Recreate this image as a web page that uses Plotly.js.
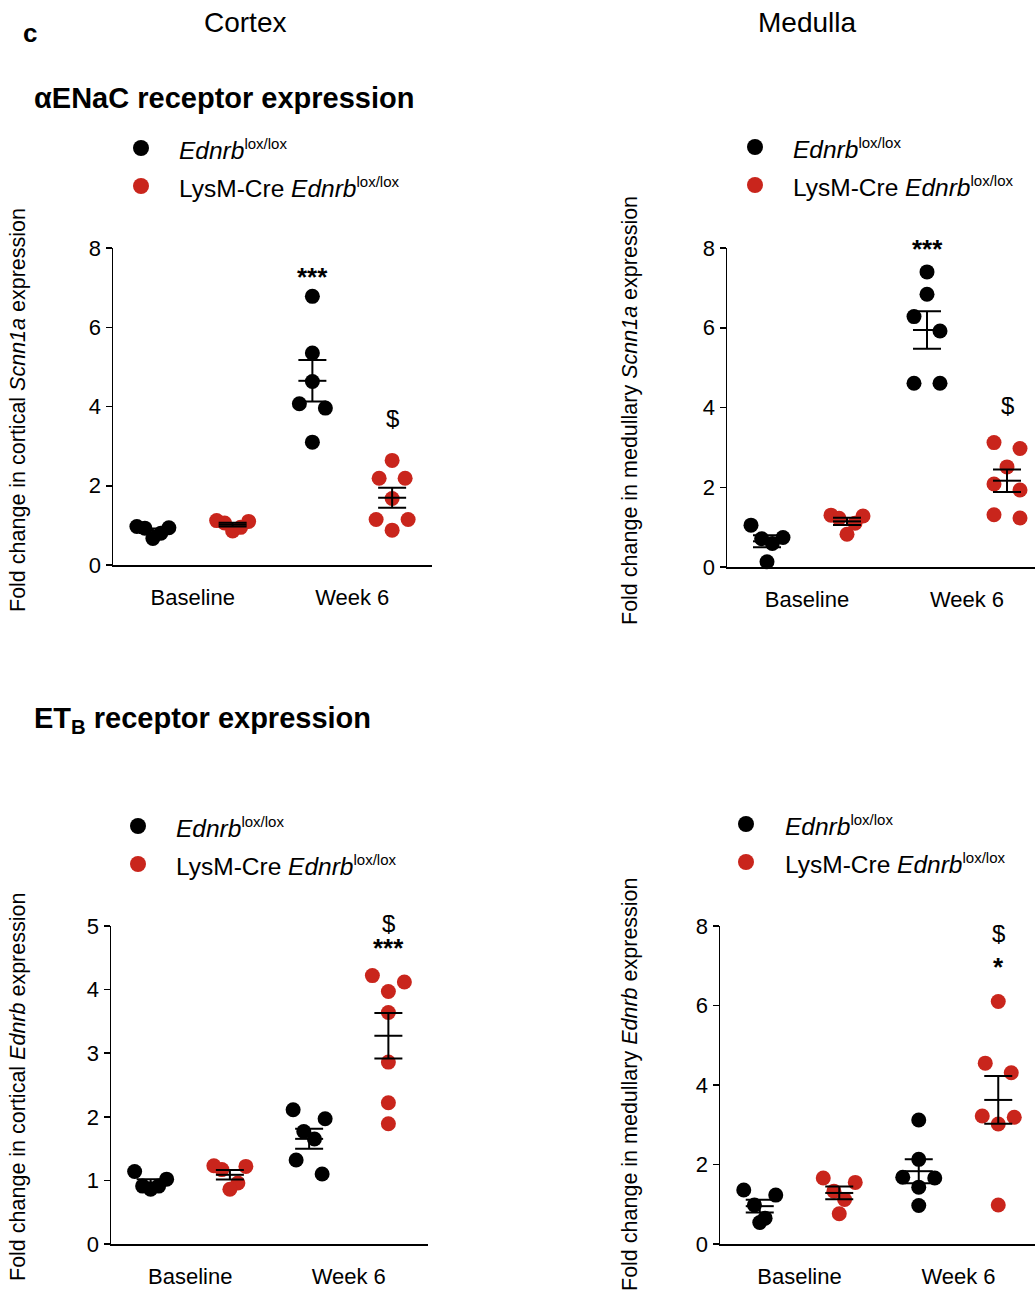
<!DOCTYPE html>
<html>
<head>
<meta charset="utf-8">
<script src="https://cdn.plot.ly/plotly-3.0.1.min.js"></script>
<style>
  html, body { margin: 0; padding: 0; overflow: hidden; background: #ffffff; }
  #fig { width: 1060px; height: 1297px; }
</style>
</head>
<body>
<div id="fig"></div>
<script>
// ---- Labels ----
const timepoints = ['Baseline', 'Week 6'];
const supLox = '<sup><span style="font-size:15px">lox/lox</span></sup>';
const genotypeFlox = '<i>Ednrb</i>' + supLox;
const genotypeLysM = 'LysM-Cre <i>Ednrb</i>' + supLox;

// ---- Fold change per animal ----
// alphaENaC (Scnn1a), cortex
const cortexScnn1aFloxBaseline = [0.97, 0.93, 0.67, 0.80, 0.94];
const cortexScnn1aLysMBaseline = [1.10, 1.06, 0.86, 0.95, 1.12];
const cortexScnn1aFloxWeek6    = [6.78, 5.35, 4.63, 4.07, 3.96, 3.10];
const cortexScnn1aLysMWeek6    = [2.64, 2.19, 2.19, 1.68, 1.15, 1.15, 0.88];

// alphaENaC (Scnn1a), medulla
const medullaScnn1aFloxBaseline = [1.05, 0.71, 0.74, 0.59, 0.13];
const medullaScnn1aLysMBaseline = [1.30, 1.22, 1.28, 0.82, 1.10];
const medullaScnn1aFloxWeek6    = [7.40, 6.84, 6.28, 5.92, 4.61, 4.61];
const medullaScnn1aLysMWeek6    = [2.97, 3.12, 2.51, 2.08, 1.93, 1.23, 1.31];

// ETB (Ednrb), cortex
const cortexEdnrbFloxBaseline = [1.14, 0.91, 0.86, 0.91, 1.02];
const cortexEdnrbLysMBaseline = [1.22, 1.17, 1.23, 0.96, 0.86];
const cortexEdnrbFloxWeek6    = [2.11, 1.97, 1.77, 1.65, 1.32, 1.10];
const cortexEdnrbLysMWeek6    = [4.22, 4.12, 3.97, 3.64, 2.86, 2.22, 1.89];

// ETB (Ednrb), medulla
const medullaEdnrbFloxBaseline = [1.36, 1.23, 0.98, 0.54, 0.65];
const medullaEdnrbLysMBaseline = [1.66, 1.55, 1.33, 1.12, 0.76];
const medullaEdnrbFloxWeek6    = [3.12, 2.13, 1.68, 1.66, 1.43, 0.97];
const medullaEdnrbLysMWeek6    = [6.10, 4.55, 4.31, 3.22, 3.19, 3.02, 0.98];

// Significance per group (flox baseline, LysM baseline, flox wk6, LysM wk6)
// * vs baseline, $ vs Ednrb lox/lox at the same time point
const starsCortexScnn1a   = ['', '', '***', ''];
const dollarCortexScnn1a  = ['', '', '', '$'];
const starsMedullaScnn1a  = ['', '', '***', ''];
const dollarMedullaScnn1a = ['', '', '', '$'];
const starsCortexEdnrb    = ['', '', '', '***'];
const dollarCortexEdnrb   = ['', '', '', '$'];
const starsMedullaEdnrb   = ['', '', '', '*'];
const dollarMedullaEdnrb  = ['', '', '', '$'];

// ---- Figure geometry ----
const W = 1060, H = 1297;
const FONT = 'Liberation Sans, Arial, Helvetica, sans-serif';
const BLACK = '#000000';
const RED = '#c9251c';

const panels = [
  { box: [113, 432, 248, 565], ymax: 8, dtick: 2,
    groups: [cortexScnn1aFloxBaseline, cortexScnn1aLysMBaseline, cortexScnn1aFloxWeek6, cortexScnn1aLysMWeek6],
    stars: starsCortexScnn1a, dollar: dollarCortexScnn1a, starsY: 277, dollarY: 418,
    ytitle: 'Fold change in cortical <i>Scnn1a</i> expression', ytitlePos: [18, 410],
    legendPos: [141, 148, 186, 177] },
  { box: [727, 1047, 248, 567], ymax: 8, dtick: 2,
    groups: [medullaScnn1aFloxBaseline, medullaScnn1aLysMBaseline, medullaScnn1aFloxWeek6, medullaScnn1aLysMWeek6],
    stars: starsMedullaScnn1a, dollar: dollarMedullaScnn1a, starsY: 249, dollarY: 405,
    ytitle: 'Fold change in medullary <i>Scnn1a</i> expression', ytitlePos: [630, 411],
    legendPos: [755, 147, 185, 791] },
  { box: [111, 428, 926, 1244], ymax: 5, dtick: 1,
    groups: [cortexEdnrbFloxBaseline, cortexEdnrbLysMBaseline, cortexEdnrbFloxWeek6, cortexEdnrbLysMWeek6],
    stars: starsCortexEdnrb, dollar: dollarCortexEdnrb, starsY: 948, dollarY: 923,
    ytitle: 'Fold change in cortical <i>Ednrb</i> expression', ytitlePos: [18, 1087],
    legendPos: [138, 826, 864, 174] },
  { box: [720, 1038, 926, 1244], ymax: 8, dtick: 2,
    groups: [medullaEdnrbFloxBaseline, medullaEdnrbLysMBaseline, medullaEdnrbFloxWeek6, medullaEdnrbLysMWeek6],
    stars: starsMedullaEdnrb, dollar: dollarMedullaEdnrb, starsY: 967, dollarY: 933,
    ytitle: 'Fold change in medullary <i>Ednrb</i> expression', ytitlePos: [630, 1084],
    legendPos: [746, 824, 862, 783] }
];

const px2x = px => px / W;
const px2y = py => 1 - py / H;

const mean = a => a.reduce((s, v) => s + v, 0) / a.length;
const sem = a => {
  const m = mean(a);
  const sd = Math.sqrt(a.reduce((s, v) => s + (v - m) * (v - m), 0) / (a.length - 1));
  return sd / Math.sqrt(a.length);
};

// Scatter-dot layout: points with close values share a row and are spread
// horizontally around the group centre (offsets returned in pixels).
function spreadOffsets(values, pxPerUnit) {
  const GAP = 15, SPAN = 30, ROW_WIDTH = 32, PAIR_STEP = 26;
  const order = values.map((_, i) => i).sort((a, b) => values[b] - values[a]);
  const offsets = new Array(values.length).fill(0);
  let i = 0;
  while (i < order.length) {
    const row = [order[i]];
    let j = i + 1;
    while (j < order.length &&
           (values[order[j - 1]] - values[order[j]]) * pxPerUnit < GAP &&
           (values[order[i]] - values[order[j]]) * pxPerUnit < SPAN) {
      row.push(order[j]); j++;
    }
    const n = row.length;
    if (n > 1) {
      const step = n === 2 ? PAIR_STEP : ROW_WIDTH / (n - 1);
      const slots = [];
      for (let k = 0; k < n; k++) slots.push((k - (n - 1) / 2) * step);
      slots.sort((a, b) => (Math.abs(a) - Math.abs(b)) || (b - a));
      const ascending = row.slice().sort((a, b) => values[a] - values[b]);
      ascending.forEach((p, k) => { offsets[p] = slots[k]; });
    }
    i = j;
  }
  return offsets;
}

const traces = [];
const layout = {
  width: W, height: H,
  margin: { l: 0, r: 0, t: 0, b: 0, pad: 0 },
  paper_bgcolor: '#ffffff', plot_bgcolor: 'rgba(0,0,0,0)',
  showlegend: false,
  font: { family: FONT, color: BLACK },
  annotations: [], shapes: []
};

panels.forEach((p, pi) => {
  const [x0, x1, yTop, yBot] = p.box;
  const xName = pi === 0 ? 'x' : 'x' + (pi + 1);
  const yName = pi === 0 ? 'y' : 'y' + (pi + 1);
  const xKey = pi === 0 ? 'xaxis' : 'xaxis' + (pi + 1);
  const yKey = pi === 0 ? 'yaxis' : 'yaxis' + (pi + 1);
  const pxPerY = (yBot - yTop) / p.ymax;
  const pxPerX = (x1 - x0) / 4;
  const groupPx = gi => x0 + (gi + 0.5) * pxPerX;

  layout[xKey] = {
    domain: [px2x(x0), px2x(x1)], range: [0.5, 4.5], anchor: yName,
    showline: true, linecolor: BLACK, linewidth: 1.5, mirror: false,
    showgrid: false, zeroline: false,
    tickmode: 'array', tickvals: [1.5, 3.5], ticktext: timepoints,
    ticks: 'outside', ticklen: 12, tickcolor: 'rgba(0,0,0,0)',
    tickfont: { family: FONT, size: 22, color: BLACK }, fixedrange: true
  };
  layout[yKey] = {
    domain: [px2y(yBot), px2y(yTop)], range: [0, p.ymax], anchor: xName,
    showline: true, linecolor: BLACK, linewidth: 1.5,
    showgrid: false, zeroline: false,
    tickmode: 'linear', tick0: 0, dtick: p.dtick,
    ticks: 'outside', ticklen: 6, tickwidth: 1.5, tickcolor: BLACK,
    tickfont: { family: FONT, size: 22, color: BLACK }, fixedrange: true
  };

  // individual animals
  p.groups.forEach((vals, gi) => {
    const offs = spreadOffsets(vals, pxPerY);
    traces.push({
      type: 'scatter', mode: 'markers', xaxis: xName, yaxis: yName,
      x: vals.map((_, k) => gi + 1 + offs[k] / pxPerX), y: vals,
      marker: { size: 15, color: gi % 2 === 0 ? BLACK : RED, line: { width: 0 } },
      cliponaxis: false, hoverinfo: 'y'
    });
  });
  // mean ± SEM drawn over the dots
  p.groups.forEach((vals, gi) => {
    traces.push({
      type: 'scatter', mode: 'markers', xaxis: xName, yaxis: yName,
      x: [gi + 1], y: [mean(vals)],
      error_y: { type: 'data', array: [sem(vals)], visible: true, color: BLACK, thickness: 2, width: 14 },
      marker: { symbol: 'line-ew', size: 20, color: BLACK, line: { width: 2, color: BLACK } },
      cliponaxis: false, hoverinfo: 'y'
    });
  });

  // significance symbols
  p.stars.forEach((s, gi) => {
    if (!s) return;
    layout.annotations.push({
      xref: 'paper', yref: 'paper', x: px2x(groupPx(gi)), y: px2y(p.starsY),
      xanchor: 'center', yanchor: 'middle', showarrow: false,
      text: '<b>' + s + '</b>', font: { family: FONT, size: 26, color: BLACK }
    });
  });
  p.dollar.forEach((s, gi) => {
    if (!s) return;
    layout.annotations.push({
      xref: 'paper', yref: 'paper', x: px2x(groupPx(gi)), y: px2y(p.dollarY),
      xanchor: 'center', yanchor: 'middle', showarrow: false,
      text: s, font: { family: FONT, size: 24, color: BLACK }
    });
  });

  // y-axis title
  layout.annotations.push({
    xref: 'paper', yref: 'paper', x: px2x(p.ytitlePos[0]), y: px2y(p.ytitlePos[1]),
    xanchor: 'center', yanchor: 'middle', showarrow: false, textangle: -90,
    text: p.ytitle, font: { family: FONT, size: 21.5, color: BLACK }
  });

  // legend
  const [lx, ly1, ly2, tx] = p.legendPos;
  [[ly1, BLACK, genotypeFlox], [ly2, RED, genotypeLysM]].forEach(([ly, col, label]) => {
    layout.shapes.push({
      type: 'circle', xref: 'paper', yref: 'paper',
      x0: px2x(lx - 8), x1: px2x(lx + 8), y0: px2y(ly + 8), y1: px2y(ly - 8),
      fillcolor: col, line: { width: 0 }
    });
    layout.annotations.push({
      xref: 'paper', yref: 'paper', x: px2x(tx), y: px2y(ly + 1),
      xanchor: 'left', yanchor: 'middle', showarrow: false,
      text: label, font: { family: FONT, size: 24.5, color: BLACK }
    });
  });
});

// headings
const headings = [
  { text: '<b>c</b>', x: 30, y: 33, size: 26, anchor: 'center' },
  { text: 'Cortex', x: 245, y: 22, size: 28, anchor: 'center' },
  { text: 'Medulla', x: 807, y: 22, size: 28, anchor: 'center' },
  { text: '<b>\u03b1ENaC receptor expression</b>', x: 32, y: 98, size: 29, anchor: 'left' },
  { text: '<b>ET<sub>B</sub> receptor expression</b>', x: 32, y: 720, size: 29, anchor: 'left' }
];
headings.forEach(h => layout.annotations.push({
  xref: 'paper', yref: 'paper', x: px2x(h.x), y: px2y(h.y),
  xanchor: h.anchor, yanchor: 'middle', showarrow: false,
  text: h.text, font: { family: FONT, size: h.size, color: BLACK }
}));

Plotly.newPlot('fig', traces, layout, { displayModeBar: false, staticPlot: true });
</script>
</body>
</html>
